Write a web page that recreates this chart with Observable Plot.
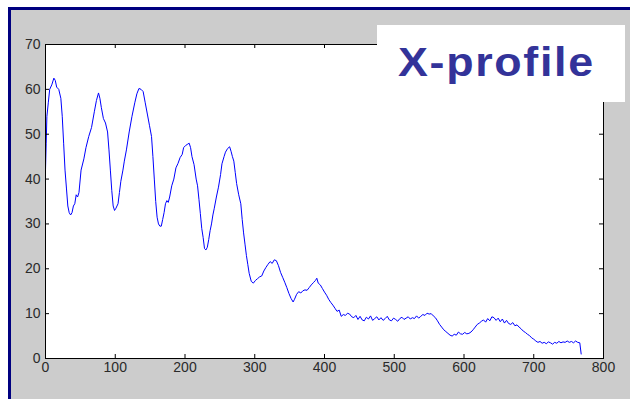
<!DOCTYPE html>
<html>
<head>
<meta charset="utf-8">
<script src="https://cdn.jsdelivr.net/npm/d3@7"></script>
<script src="https://cdn.jsdelivr.net/npm/@observablehq/plot@0.6"></script>
<style>
  html, body { margin: 0; padding: 0; background: #fff; }
  #page { position: relative; width: 630px; height: 399px; overflow: hidden; background: #fff; }
  #panel { position: absolute; left: 8px; top: 7px; right: 0; bottom: 0; background: #cccccc;
           border-left: 3px solid #000080; border-top: 3px solid #000080; }
  #chart { position: absolute; left: 0; top: 0; }
  #title { position: absolute; left: 377px; top: 25px; width: 248px; height: 77px; background: #fff; }
  #title span { position: absolute; left: 21px; top: 17px; font: bold 40px/40px "Liberation Sans", Arial, sans-serif;
                color: #333399; letter-spacing: 1.5px; white-space: nowrap;
                transform: scaleX(1.12); transform-origin: 0 0; }
</style>
</head>
<body>
<div id="page">
  <div id="panel"></div>
  <div id="chart"></div>
  <div id="title"><span>X-profile</span></div>
</div>
<script>
// Intensity profile along x (pixel position vs. value)
const positions = [
  0,1,2,4,6,9,12,14,16,19,22,24,26,28,30,32,34,36,38,40,42,44,46,48,51,55,58,62,66,70,73,76,78,80,83,86,89,91,93,95,97,99,
  101,104,106,108,111,113,116,120,124,128,131,134,137,140,143,146,149,152,154,156,158,160,162,164,166,168,170,172,174,176,178,
  181,184,187,190,193,196,198,201,204,206,208,210,213,216,218,220,222,224,226,228,230,232,234,236,238,240,242,245,248,251,253,
  256,258,261,264,266,268,270,272,274,277,280,282,284,286,288,290,292,295,298,301,304,307,310,313,316,319,322,325,328,331,334,
  337,340,343,346,349,352,355,357,360,363,366,369,372,375,378,381,384,387,389,391,394,397,400,403,406,409,412,415,418,421,424,
  427,430,433,436,439,442,445,448,451,454,457,460,463,466,469,472,475,478,481,484,487,490,493,496,499,502,505,508,511,514,517,
  520,523,526,529,532,535,538,541,544,547,550,553,556,559,562,565,568,571,574,577,580,583,586,589,592,595,598,601,604,607,610,
  613,616,619,622,625,628,631,634,637,640,643,646,649,652,655,658,661,664,667,670,673,676,679,682,685,688,691,694,697,700,703,
  706,709,712,715,718,721,724,727,730,733,736,739,742,745,748,751,754,757,760,763,766,768
];
const values = [
  42,48,54,57,60,61,62.5,62,60.5,60,58,54,48,42,38,34,32.5,32,32.5,34,34.5,36.5,36,37,42,44.5,47,49.5,51.5,55,57.5,59.2,58,56,53.5,52.5,50.5,46.5,42,37.5,34,33,
  33.5,34.5,37,39.5,42,44,46.5,50.5,54,57,59,60.2,60,59.5,57,54.5,52,49.5,45,40,35,31.5,30,29.5,29.5,31,32.5,34.5,35.2,34.8,36,
  38.5,40,42.5,43.5,44.8,45.5,47,47.5,47.8,48,47,45,43.2,40,38.5,35.5,32.3,29,27,24.5,24.2,24.8,26.5,28.5,30,32,33.5,36,38.2,41,43.4,
  45,46,46.8,47.2,46.2,45,44,41.5,39,36.5,34.5,31,28,25.5,23,21,19,17.2,16.8,17.4,17.8,18.2,18.4,19.5,20.3,21,21.6,21.2,22,21.8,20.7,
  19.2,18.1,17,15.8,14.5,13.4,12.6,13.2,14.3,14.9,14.6,15.1,15.3,15.2,15.8,16.4,16.9,17.4,17.9,16.8,16.4,15.6,14.8,14.1,13.2,12.5,11.9,11.2,10.5,10.8,9.4,
  9.8,9.6,10.1,9.9,9.3,9.1,9.6,8.7,9.4,8.6,8.4,9.2,8.8,9.5,8.5,8.9,9.3,8.6,9.1,8.5,8.9,9.4,8.6,8.4,9.0,8.7,8.3,8.9,9.2,8.7,9.0,
  9.3,8.8,9.1,8.9,9.5,9.0,9.4,9.8,9.6,10.1,9.9,10.0,9.5,9.1,8.4,7.6,7.0,6.4,6.0,5.6,5.2,5.0,5.4,5.2,5.9,5.5,5.4,5.8,5.5,5.6,5.9,
  6.4,7.0,7.6,7.9,8.3,8.6,8.1,8.9,8.4,9.3,9.1,8.5,9.0,8.2,8.8,7.9,8.5,7.8,7.6,8.0,7.3,7.5,7.0,6.6,6.1,5.8,5.4,5.1,4.6,4.3,3.9,
  3.6,3.8,3.4,3.6,3.3,3.7,3.5,3.2,3.6,3.4,3.8,3.5,3.7,3.6,3.9,3.6,3.8,3.5,3.9,3.6,3.5,1.0
];
const xTicks = [0, 100, 200, 300, 400, 500, 600, 700, 800];
const yTicks = [0, 10, 20, 30, 40, 50, 60, 70];

const profile = positions.map((x, i) => ({x, y: values[i]}));

const W = 630, H = 399, mL = 45, mR = 27, mT = 44, mB = 41;
const innerW = W - mL - mR, innerH = H - mT - mB;
const tickLen = 4;

const chart = Plot.plot({
  width: W,
  height: H,
  marginLeft: mL,
  marginRight: mR,
  marginTop: mT,
  marginBottom: mB,
  style: {background: "transparent", fontFamily: "'Liberation Sans', Arial, sans-serif", fontSize: "14px", color: "#2a2a2a"},
  x: {domain: [0, 800], label: null},
  y: {domain: [0, 70], label: null},
  marks: [
    Plot.frame({fill: "white", stroke: "none"}),
    Plot.line(profile, {x: "x", y: "y", stroke: "#0000ff", strokeWidth: 1}),
    // inward ticks on all four sides
    Plot.tickX(xTicks, {x: d => d, insetTop: innerH - tickLen, stroke: "black"}),
    Plot.tickX(xTicks, {x: d => d, insetBottom: innerH - tickLen, stroke: "black"}),
    Plot.tickY(yTicks, {y: d => d, insetRight: innerW - tickLen, stroke: "black"}),
    Plot.tickY(yTicks, {y: d => d, insetLeft: innerW - tickLen, stroke: "black"}),
    Plot.frame({stroke: "black"}),
    Plot.axisX(xTicks, {tickSize: 0, tickPadding: 4, fill: "#2a2a2a"}),
    Plot.axisY(yTicks, {tickSize: 0, tickPadding: 5, fill: "#2a2a2a"})
  ]
});
document.getElementById("chart").append(chart);
</script>
</body>
</html>
